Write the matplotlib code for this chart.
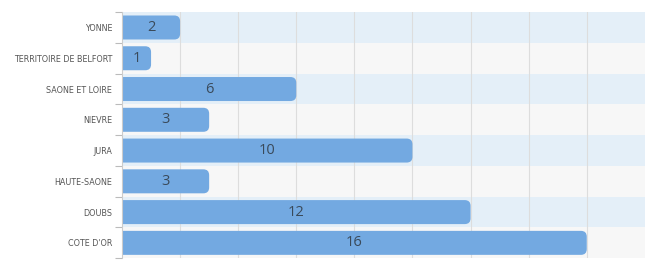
import matplotlib.pyplot as plt
from matplotlib.patches import FancyBboxPatch

regions = ['YONNE', 'TERRITOIRE DE BELFORT', 'SAONE ET LOIRE', 'NIEVRE',
           'JURA', 'HAUTE-SAONE', 'DOUBS', "COTE D'OR"]
counts = [2, 1, 6, 3, 10, 3, 12, 16]

bar_color = '#73a9e1'
band_colors = ['#e4eff8', '#f7f7f7']

fig = plt.figure(figsize=(6.56, 2.69), dpi=100)
ax = fig.add_axes([0.186, 0.04, 0.797, 0.915])

n = len(regions)
ax.set_xlim(0, 18)
ax.set_ylim(n - 0.5, -0.5)

# alternating row bands
for i in range(n):
    ax.axhspan(i - 0.5, i + 0.5, color=band_colors[i % 2], zorder=0, lw=0)

for x in range(2, 18, 2):
    ax.axvline(x, color='#dddddd', lw=0.8, zorder=1)

h = 0.78
for i, v in enumerate(counts):
    p = FancyBboxPatch((-0.5, i - h / 2), v + 0.5, h,
                       boxstyle='round,pad=0,rounding_size=0.2',
                       mutation_aspect=0.95, fc=bar_color, ec='none', zorder=2)
    ax.add_patch(p)
    ax.text(v / 2, i, str(v), ha='center', va='center', fontsize=10.5,
            family='Open Sans', color='#3a4a5a', zorder=3)

ax.set_yticks(range(n))
ax.set_yticklabels(regions, fontsize=5.8, color='#555555')
ax.set_yticks([i - 0.5 for i in range(n + 1)], minor=True)
ax.tick_params(axis='y', which='major', length=0, pad=7)
ax.tick_params(axis='y', which='minor', length=5, color='#bbbbbb', width=0.8)
ax.set_xticks([])

for s in ['top', 'right', 'bottom']:
    ax.spines[s].set_visible(False)
ax.spines['left'].set_color('#cccccc')
ax.spines['left'].set_linewidth(0.8)

fig.savefig('out.png', dpi=100)
